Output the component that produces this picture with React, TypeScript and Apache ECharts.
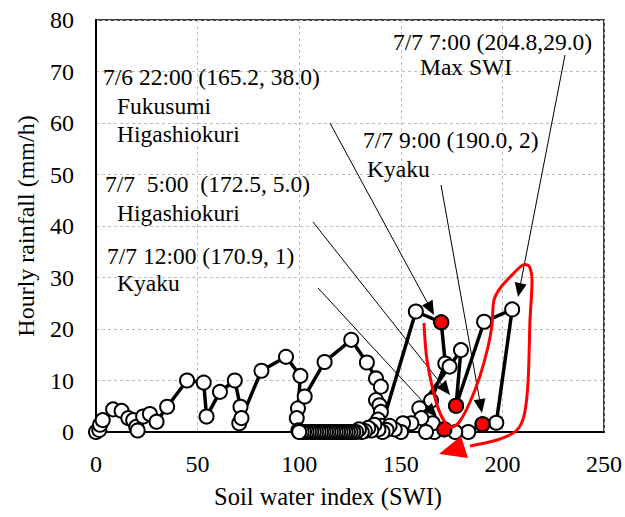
import React, { useEffect, useRef } from "react";
import * as echarts from "echarts";

// Trajectory (in time order): soil water index vs hourly rainfall
const swi: number[] = [
  0, 1.6, 2, 3.3, 8.4, 12.6, 15.9, 18.3, 19.8, 20.5, 23.2, 26.5, 29.8, 35, 44.8, 53, 54.4, 61, 68.3, 71.1, 70.5, 71.6,
  81.4, 93.5, 100.6, 99.4, 98.8, 99.6, 102.7, 112.5, 125.6, 133.3, 137.8, 140.2, 137.8, 139.5, 140.2, 138.8, 140.6,
  157.4, 169.9, 171.9, 164.9, 159.1, 174, 179.6, 177.2, 191, 204.8, 197, 190.2, 183.2, 176.8, 171.4,
  166.5, 165.7, 162.4, 160.1, 155.2, 151.1, 150.1, 147, 144.5, 143, 141, 139, 137, 135.5, 134, 132.3, 130.8, 129.4,
  128, 126.6, 125.3, 124, 122.8, 121.6, 120.4, 119.2, 118, 116.8, 115.6, 114.4, 113.2, 112, 110.8, 109.6, 108.4,
  107.2, 106, 104.8, 103.6, 102.4, 101.2, 100,
];
const rain: number[] = [
  0, 0.4, 1.4, 2.3, 4.4, 4.1, 2.7, 2.3, 1.0, 0.3, 3, 3.5, 2, 4.9, 10, 9.6, 3, 7.8, 10, 4.9, 1.7, 2.7,
  11.9, 14.6, 10.9, 4.6, 2.7, 0.3, 6.9, 13.6, 17.9, 13.5, 10.4, 8.8, 6.2, 5.2, 3.9, 2.4, 1.2,
  23.4, 21.3, 13.3, 6.1, 4.6, 12.7, 15.9, 5.1, 21.4, 23.8, 1.8, 1.5, 0, 0, 0.5,
  0, 1.7, 0, 2.7, 1.7, 1.7, 0, 0.5, 1.2, 0.4, 0, 0.5, 1.4, 0.3, 0.8, 0.2, 0, 0.5,
  0, 0, 0, 0, 0, 0, 0, 0, 0, 0, 0, 0, 0, 0, 0, 0, 0,
  0, 0, 0, 0, 0, 0, 0,
];

// Highlighted hours (red markers)
const redSwi: number[] = [169.9, 177.2, 190.2, 171.4];
const redRain: number[] = [21.3, 5.1, 1.5, 0.5];

const xTicks = { min: 0, max: 250, interval: 50 };
const yTicks = { min: 0, max: 80, interval: 10 };

const FONT = '"Times New Roman", "Liberation Serif", serif';

type P = [number, number];

function arrow(from: P, to: P, len = 14, hw = 6): any[] {
  const dx = to[0] - from[0];
  const dy = to[1] - from[1];
  const d = Math.sqrt(dx * dx + dy * dy);
  const ux = dx / d;
  const uy = dy / d;
  const bx = to[0] - ux * len;
  const by = to[1] - uy * len;
  return [
    {
      type: "line",
      shape: { x1: from[0], y1: from[1], x2: bx, y2: by },
      style: { stroke: "#000", lineWidth: 1 },
      z: 100,
    },
    {
      type: "polygon",
      shape: {
        points: [
          [to[0], to[1]],
          [bx - uy * hw, by + ux * hw],
          [bx + uy * hw, by - ux * hw],
        ],
      },
      style: { fill: "#000" },
      z: 100,
    },
  ];
}

function label(text: string, x: number, y: number): any {
  return {
    type: "text",
    x,
    y,
    z: 100,
    style: {
      text,
      fill: "#000",
      fontSize: 23.5,
      fontFamily: FONT,
      align: "left",
      verticalAlign: "middle",
    },
  };
}

export default function App() {
  const ref = useRef<HTMLDivElement>(null);
  useEffect(() => {
    document.body.style.margin = "0";
    if (!ref.current) return;
    const chart = echarts.init(ref.current, undefined, { renderer: "svg" });

    const redPath: P[] = [
      [424, 323], [427, 360], [437, 405], [446, 424], [452, 427], [460, 421], [470, 402], [480, 376], [488, 347],
      [492, 325], [494, 300], [501, 287], [513, 274], [523, 265], [529, 266], [532, 280], [530, 320], [528, 383],
      [524, 416], [516, 431], [497, 440], [470, 446],
    ];

    const graphics: any[] = [
      label("7/6 22:00 (165.2, 38.0)", 103, 77),
      label("Fukusumi", 117, 106),
      label("Higashiokuri", 117, 134),
      label("7/7  5:00  (172.5, 5.0)", 105, 184),
      label("Higashiokuri", 117, 213),
      label("7/7 12:00 (170.9, 1)", 107, 256),
      label("Kyaku", 117, 283),
      label("7/7 9:00 (190.0, 2)", 363, 140),
      label("Kyaku", 367, 169),
      label("7/7 7:00 (204.8,29.0)", 393, 42),
      label("Max SWI", 420, 67),
      ...arrow([330, 123], [434, 315]),
      ...arrow([313, 222], [450, 395]),
      ...arrow([318, 288], [437, 417]),
      ...arrow([441, 185], [482, 413]),
      ...arrow([565, 55], [518, 297]),
      {
        type: "polyline",
        z: 101,
        shape: { points: redPath, smooth: 0.3 },
        style: { stroke: "#ff0000", lineWidth: 3, fill: "none" },
      },
      {
        type: "polygon",
        z: 101,
        shape: { points: [[439, 454], [461, 436], [468, 458]] },
        style: { fill: "#ff0000" },
      },
    ];

    chart.setOption({
      animation: false,
      backgroundColor: "#fff",
      grid: {
        left: 96,
        right: 20,
        top: 20,
        bottom: 85,
        show: true,
        borderColor: "#000",
        borderWidth: 1.5,
        backgroundColor: "transparent",
      },
      xAxis: {
        type: "value",
        ...xTicks,
        name: "Soil water index (SWI)",
        nameLocation: "middle",
        nameGap: 52,
        nameTextStyle: { fontFamily: FONT, fontSize: 24.5, color: "#000", padding: [0, 44, 0, 0] },
        axisLine: { show: true, lineStyle: { color: "#000", width: 2 } },
        axisTick: { show: false },
        axisLabel: { fontFamily: FONT, fontSize: 24, color: "#000", margin: 20 },
        splitLine: { show: true, lineStyle: { color: "#bdbdbd", type: [3, 3], width: 1 } },
      },
      yAxis: {
        type: "value",
        ...yTicks,
        name: "Hourly rainfall (mm/h)",
        nameLocation: "middle",
        nameGap: 58,
        nameTextStyle: { fontFamily: FONT, fontSize: 24, color: "#000" },
        axisLine: { show: true, lineStyle: { color: "#000", width: 2 } },
        axisTick: { show: false },
        axisLabel: { fontFamily: FONT, fontSize: 24, color: "#000", margin: 22 },
        splitLine: { show: true, lineStyle: { color: "#bdbdbd", type: [3, 3], width: 1 } },
      },
      series: [
        {
          type: "line",
          data: swi.map((v, i) => [v, rain[i]]),
          symbol: "circle",
          symbolSize: 14,
          showAllSymbol: true,
          lineStyle: { color: "#000", width: 3.5 },
          itemStyle: { color: "#fff", borderColor: "#000", borderWidth: 2 },
          z: 3,
        },
        {
          type: "scatter",
          data: redSwi.map((v, i) => [v, redRain[i]]),
          symbol: "circle",
          symbolSize: 14,
          itemStyle: { color: "#ff0000", borderColor: "#000", borderWidth: 2, opacity: 1 },
          z: 4,
        },
      ],
      graphic: graphics,
    });
    return () => chart.dispose();
  }, []);
  return (
    <div
      ref={ref}
      style={{ position: "absolute", left: 0, top: 0, width: 625, height: 517 }}
    />
  );
}
